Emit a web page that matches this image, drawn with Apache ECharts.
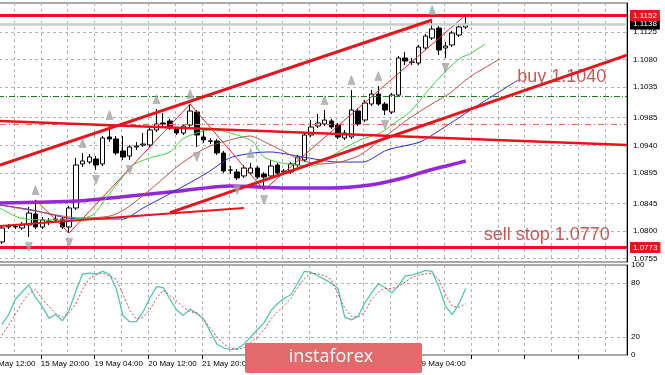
<!DOCTYPE html>
<html><head><meta charset="utf-8">
<script src="https://cdn.jsdelivr.net/npm/echarts@6/dist/echarts.min.js"></script>
<style>html,body{margin:0;padding:0;background:#fff}#c{width:665px;height:375px}</style>
</head><body><div id="c"></div>
<script>
// ---- data (EURUSD H4) ----
const opens = [1.07821,1.08066,1.08066,1.08049,1.08098,1.08278,1.08066,1.08147,1.08180,1.08196,
1.08066,1.08376,1.09095,1.09127,1.09176,1.09095,1.09536,1.09503,1.09307,1.09225,
1.09372,1.09405,1.09405,1.09650,1.09764,1.09797,1.09666,1.09601,1.09732,1.09944,
1.09536,1.09472,1.09470,1.09274,1.08997,1.08964,1.08899,1.08948,1.09029,1.08931,
1.08899,1.09078,1.08964,1.08964,1.09078,1.09160,1.09568,1.09715,1.09748,1.09797,
1.09732,1.09519,1.09536,1.09960,1.09813,1.10074,1.10237,1.10074,1.09944,1.10221,
1.10825,1.10760,1.10744,1.10989,1.11152,1.11315,1.10989,1.11038,1.11201,1.11332];
const closes = [1.08049,1.08082,1.08074,1.08098,1.08294,1.08066,1.08180,1.08164,1.08196,1.08066,
1.08376,1.09078,1.09144,1.09209,1.09078,1.09519,1.09503,1.09274,1.09209,1.09372,
1.09389,1.09421,1.09650,1.09748,1.09748,1.09683,1.09601,1.09715,1.09960,1.09568,
1.09487,1.09468,1.09274,1.08980,1.08995,1.08866,1.09029,1.09029,1.08882,1.08882,
1.09062,1.08948,1.08980,1.09095,1.09209,1.09568,1.09699,1.09764,1.09813,1.09699,
1.09536,1.09601,1.09976,1.09748,1.10091,1.10237,1.10074,1.09976,1.10221,1.10825,
1.10776,1.10758,1.11005,1.11185,1.11299,1.10956,1.11021,1.11234,1.11332,1.11380];
const lows = [1.07788,1.08033,1.08033,1.08017,1.07903,1.08033,1.08033,1.08098,1.08131,1.08033,
1.07968,1.08343,1.09046,1.09095,1.08997,1.09062,1.09454,1.09242,1.09160,1.09160,
1.09323,1.09372,1.09372,1.09617,1.09699,1.09650,1.09568,1.09568,1.09699,1.09372,
1.09438,1.09421,1.09242,1.08948,1.08931,1.08833,1.08866,1.08915,1.08850,1.08670,
1.08866,1.08915,1.08931,1.08931,1.09046,1.09127,1.09536,1.09683,1.09715,1.09666,
1.09503,1.09487,1.09503,1.09715,1.09781,1.10042,1.10042,1.09895,1.09911,1.10189,
1.10711,1.10711,1.10711,1.10956,1.11119,1.10874,1.10825,1.11005,1.11168,1.11299];
const highs = [1.08098,1.08115,1.08098,1.08147,1.08392,1.08507,1.08229,1.08213,1.08245,1.08229,
1.08409,1.09193,1.09274,1.09258,1.09225,1.09552,1.09732,1.09552,1.09552,1.09405,
1.09454,1.09601,1.09699,1.09993,1.09927,1.09830,1.09699,1.09748,1.10074,1.09976,
1.09650,1.09519,1.09503,1.09307,1.09062,1.09013,1.09078,1.09111,1.09062,1.08964,
1.09160,1.09111,1.09013,1.09127,1.09242,1.09601,1.09813,1.09911,1.09976,1.09830,
1.09764,1.09650,1.10303,1.10009,1.10140,1.10303,1.10368,1.10107,1.10254,1.10858,
1.10923,1.10825,1.11038,1.11217,1.11446,1.11348,1.11087,1.11266,1.11364,1.11528];

const timeLabels = ['14 May 12:00','15 May 20:00','19 May 04:00','20 May 12:00','21 May 20:00',
'23 May 04:00','24 May 12:00','27 May 20:00','29 May 04:00'];
const priceTicks = [1.1125,1.1080,1.1035,1.0985,1.0940,1.0895,1.0845,1.0800,1.0755];
const stochTicks = [100,80,20,0];
const stochLevels = [80,20];

const stochK = [34,45,62,70,78,64,54,41,45,38,50,71,90,91,90,93,90,74,44,37,
37,48,63,76,75,62,50,44,51,46,40,26,12,8,6,7,12,20,28,36,
49,57,63,67,80,93,92,88,84,80,74,42,39,43,58,69,79,75,69,77,
88,89,91,94,93,76,54,45,57,74];
const stochD = [22,33,45,58,68,73,62,54,46,42,47,57,73,85,89,91,88,84,68,50,
40,42,50,63,72,66,60,53,48,47,40,30,20,12,8,6,8,14,20,28,
40,48,55,63,75,85,91,90,88,84,68,52,43,42,48,62,70,74,74,76,
81,86,89,90,91,84,67,54,53,57];

// Alligator lines (bar index, price)
const lipsX = [-0.3,2.7,7.1,10.9,13.5,15.6,17.6,19.5,22,25,26.9,29,31,32.9,35.4,37.4,38.8,40.9,43.9,46.3,48.8,51,53.3,56.3,58.2,60.7,63.7,66.2,68.2,69.6,71.9];
const lipsY = [1.08376,1.08213,1.08180,1.08196,1.08262,1.08556,1.08833,1.09078,1.09193,1.09291,1.09503,1.09601,1.09650,1.09633,1.09552,1.09454,1.09225,1.09127,1.09078,1.09062,1.09209,1.09356,1.09487,1.09601,1.09748,1.09944,1.10336,1.10630,1.10825,1.10891,1.11054];
const teethX = [-0.3,5.7,11.6,16.1,18.6,22,26,29,31,33.9,36.9,39.1,42.1,44.4,47.3,50.3,53.3,57.3,60.7,63.7,66.7,69.6,74.1];
const teethY = [1.08425,1.08311,1.08213,1.08245,1.08376,1.08670,1.09046,1.09274,1.09389,1.09487,1.09552,1.09454,1.09291,1.09160,1.09095,1.09127,1.09242,1.09568,1.09846,1.10058,1.10254,1.10515,1.10809];
const jawX = [-0.3,4.6,9.7,13.5,18,21,26,30.5,33.9,37.4,39.9,44.8,49.9,53.7,57.3,62.2,65.2,71.1,76.8];
const jawY = [1.08425,1.08343,1.08213,1.08196,1.08196,1.08376,1.08670,1.08948,1.09193,1.09274,1.09291,1.09209,1.09127,1.09127,1.09323,1.09454,1.09650,1.10074,1.10467];
const slowMaX = [-0.3,11.2,17.6,26.5,33.9,42.4,48.8,54.8,59.7,63.7,66.7,69];
const slowMaY = [1.08458,1.08490,1.08556,1.08654,1.08735,1.08702,1.08702,1.08752,1.08866,1.08997,1.09078,1.09144];
const zigzagX = [5,10,28,39,69];
const zigzagY = [1.08507,1.07968,1.10074,1.08670,1.11528];

// drawn objects
const upperChannelX = [-0.3,64], upperChannelY = [1.09078,1.11446];
const lowerChannelX = [25,93], lowerChannelY = [1.08301,1.10874];
const declineX = [-0.3,93], declineY = [1.09797,1.09405];
const baseX = [-0.3,36], baseY = [1.08082,1.08376];
const redLevels = [1.1152,1.0773];
const lastPrice = 1.1138;
const greenLevel = 1.1020;
const orangeLevel = 1.0975;
const fractalUp = [5,12,16,23,28,37,48,52,56,64];
const fractalDown = [4,10,14,19,29,35,39,57,66];
const notesX = [76.6,71.6];
const notesY = [1.10515,1.07935];
const notesText = ['buy 1.1040','sell stop 1.0770'];

// ---- chart ----
const FONT = '"Liberation Sans", Arial, sans-serif';
const X_MIN = -2.2202, X_MAX = 93;
const pair = (xs, ys) => xs.map((x, k) => [x, ys[k]]);
const RED = '#e8141b';

const chart = echarts.init(document.getElementById('c'), null, {renderer: 'canvas'});

const gridSplit = {show: true, lineStyle: {color: '#b4b4b4', type: [3, 3], width: 1}};
const hiddenX = (gi, pos) => ({type: 'value', gridIndex: gi, min: X_MIN, max: X_MAX, interval: 4, position: pos,
  axisLine: {show: false, onZero: false}, axisTick: {show: false}, axisLabel: {show: false}, splitLine: gridSplit});

const trend = (xs, ys, w) => ({type: 'line', xAxisIndex: 0, yAxisIndex: 0, data: pair(xs, ys), showSymbol: false,
  lineStyle: {color: RED, width: w}, z: 6, silent: true});
const ma = (xs, ys, color, w) => ({type: 'line', xAxisIndex: 0, yAxisIndex: 0, data: pair(xs, ys), showSymbol: false,
  smooth: 0.25, lineStyle: {color: color, width: w}, z: 4, silent: true});

const boxLabel = (bg) => ({show: true, position: 'end', distance: 3, color: '#fff', backgroundColor: bg,
  padding: [2, 3, 1, 3], fontSize: 8, fontFamily: FONT, formatter: p => Number(p.value).toFixed(4)});

const gridBase = {left: -13, width: 640, show: true, borderColor: '#555', borderWidth: 1,
  backgroundColor: 'transparent', containLabel: false, outerBoundsMode: 'none'};

const option = {
  animation: false,
  backgroundColor: '#fff',
  grid: [
    Object.assign({top: 3, height: 259}, gridBase),
    Object.assign({top: 265, height: 90}, gridBase)
  ],
  xAxis: [
    hiddenX(0, 'bottom'),
    hiddenX(1, 'top'),
    {type: 'value', gridIndex: 1, min: X_MIN, max: X_MAX, interval: 8, position: 'bottom',
      axisLine: {show: false, onZero: false}, splitLine: {show: false},
      axisTick: {show: true, length: 4, lineStyle: {color: '#000'}},
      axisLabel: {show: true, showMaxLabel: false, hideOverlap: false, align: 'left', margin: 5, fontSize: 8, fontFamily: FONT, color: '#000',
        formatter: v => { const k = Math.round((v - X_MIN) / 8); return timeLabels[k] || ''; }}}
  ],
  yAxis: [
    {type: 'value', gridIndex: 0, min: 1.07494, max: 1.11724, position: 'right',
      axisLine: {show: true, onZero: false, lineStyle: {color: '#000'}}, axisTick: {show: false}, axisLabel: {show: false}, splitLine: {show: false}},
    {type: 'value', gridIndex: 1, min: 0, max: 100, interval: 20, position: 'right',
      axisLine: {show: true, onZero: false, lineStyle: {color: '#000'}}, axisTick: {show: false}, splitLine: {show: false},
      axisLabel: {show: true, margin: 4, fontSize: 8, fontFamily: FONT, color: '#000',
        formatter: v => stochTicks.indexOf(v) >= 0 ? String(v) : ''}}
  ],
  series: [
    // price grid lines + right-hand price labels
    {type: 'line', xAxisIndex: 0, yAxisIndex: 0, data: [[-50, 1.09]], showSymbol: false, silent: true, z: 1,
      markLine: {silent: true, symbol: ['none', 'none'], animation: false, z: 1, precision: 5,
        lineStyle: {color: '#b4b4b4', type: [3, 3], width: 1},
        label: {show: true, position: 'end', distance: 6, color: '#000', fontSize: 8, fontFamily: FONT,
          formatter: p => Number(p.value).toFixed(4)},
        data: priceTicks.map(v => ({yAxis: v}))}},
    // candles
    {type: 'candlestick', xAxisIndex: 0, yAxisIndex: 0, z: 3,
      data: opens.map((o, i) => [i, o, closes[i], lows[i], highs[i]]),
      encode: {x: 0, y: [1, 2, 3, 4]}, barWidth: 5,
      itemStyle: {color: '#fff', color0: '#000', borderColor: '#000', borderColor0: '#000', borderWidth: 1}},
    // indicators
    ma(slowMaX, slowMaY, '#9428d8', 3.5),
    ma(jawX, jawY, '#2b2bd0', 1),
    ma(teethX, teethY, '#c0504a', 1),
    ma(lipsX, lipsY, '#3fd23f', 1),
    {type: 'line', xAxisIndex: 0, yAxisIndex: 0, data: pair(zigzagX, zigzagY), showSymbol: false,
      lineStyle: {color: '#d83030', width: 1}, z: 4, silent: true},
    // drawn trend lines
    trend(upperChannelX, upperChannelY, 3),
    trend(lowerChannelX, lowerChannelY, 3),
    trend(declineX, declineY, 2.5),
    trend(baseX, baseY, 2),
    // horizontal levels
    {type: 'line', xAxisIndex: 0, yAxisIndex: 0, data: [[-50, 1.09]], showSymbol: false, silent: true, z: 5,
      markLine: {silent: true, symbol: ['none', 'none'], animation: false, z: 5, precision: 5,
        data: [
          {yAxis: greenLevel, lineStyle: {color: '#237a23', type: [6, 2, 1, 2], width: 1}, label: {show: false}},
          {yAxis: orangeLevel, lineStyle: {color: '#e2704f', type: [6, 3, 1, 3], width: 1}, label: {show: false}},
          {yAxis: lastPrice, lineStyle: {color: '#cdcdcd', type: 'solid', width: 2.5}, label: boxLabel('#000')},
          {yAxis: redLevels[0], lineStyle: {color: RED, type: 'solid', width: 3}, label: boxLabel('#e8141b')},
          {yAxis: redLevels[1], lineStyle: {color: RED, type: 'solid', width: 3}, label: boxLabel('#e8141b')}
        ]}},
    // fractals
    {type: 'scatter', xAxisIndex: 0, yAxisIndex: 0, symbol: 'triangle', symbolSize: [7, 9], symbolOffset: [0, -10],
      data: fractalUp.map(i => [i, highs[i]]), itemStyle: {color: '#a6a6a6', borderColor: '#8a8a8a', borderWidth: 0.5}, z: 6, silent: true},
    {type: 'scatter', xAxisIndex: 0, yAxisIndex: 0, symbol: 'triangle', symbolRotate: 180, symbolSize: [7, 9], symbolOffset: [0, 10],
      data: fractalDown.map(i => [i, lows[i]]), itemStyle: {color: '#a6a6a6', borderColor: '#8a8a8a', borderWidth: 0.5}, z: 6, silent: true},
    // text objects
    {type: 'scatter', xAxisIndex: 0, yAxisIndex: 0, symbolSize: 1, itemStyle: {color: 'transparent'}, z: 7, silent: true,
      data: notesX.map((x, k) => [x, notesY[k], notesText[k]]),
      label: {show: true, position: 'right', distance: 0, color: '#b83030', fontSize: 18, fontFamily: FONT,
        formatter: p => p.data[2]}},
    // stochastic panel
    {type: 'line', xAxisIndex: 1, yAxisIndex: 1, data: [[-50, 50]], showSymbol: false, silent: true, z: 1,
      markLine: {silent: true, symbol: ['none', 'none'], animation: false, z: 1, label: {show: false},
        lineStyle: {color: '#b4b4b4', type: [3, 3], width: 1},
        data: stochLevels.map(v => ({yAxis: v}))}},
    {type: 'line', xAxisIndex: 1, yAxisIndex: 1, data: stochK.map((v, i) => [i, v]), showSymbol: false,
      lineStyle: {color: '#55c6b4', width: 1.3}, z: 3, silent: true},
    {type: 'line', xAxisIndex: 1, yAxisIndex: 1, data: stochD.map((v, i) => [i, v]), showSymbol: false,
      lineStyle: {color: '#e04848', width: 1, type: [2, 2]}, z: 3, silent: true}
  ],
  graphic: [
    {type: 'rect', shape: {x: 245, y: 343, width: 177, height: 30, r: 2}, style: {fill: '#e26a6a'}, z: 100, silent: true},
    {type: 'text', x: 331, y: 357, style: {text: 'instaforex', fill: '#fff', font: '18px "Open Sans", sans-serif',
      align: 'center', verticalAlign: 'middle', textAlign: 'center', textVerticalAlign: 'middle'}, z: 101, silent: true}
  ]
};
chart.setOption(option);
</script>
</body></html>
